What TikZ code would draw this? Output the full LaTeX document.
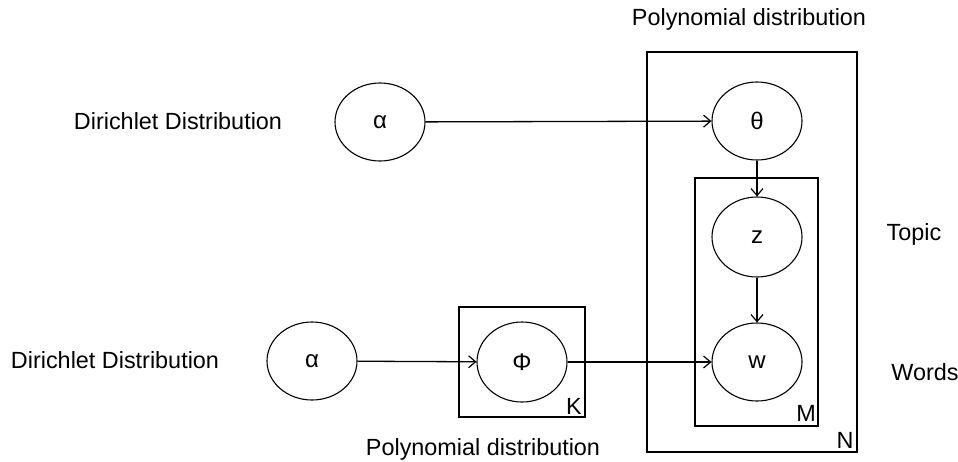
\documentclass[tikz,border=0pt]{standalone}
\usepackage{fontspec}
\setmainfont{Liberation Sans}
\usetikzlibrary{arrows.meta,shapes.geometric}
\begin{document}
\begin{tikzpicture}[x=1pt,y=-1pt,
  var/.style={draw, ellipse, line width=1.1pt, minimum width=90pt, minimum height=78pt, inner sep=0pt, font=\fontsize{24}{28}\selectfont},
  plate/.style={draw, line width=1.2pt},
  lbl/.style={font=\fontsize{23.4}{28}\selectfont, inner sep=0pt},
  arr/.style={line width=1.3pt, -{Straight Barb[length=7pt,width=12pt,line width=1.2pt]}}
]
\useasboundingbox (0,0) rectangle (958,461);
% plates
\draw[plate] (647,52) rectangle (857,452);
\draw[plate] (695,178) rectangle (818,426);
\draw[plate] (459,307) rectangle (585,417);
\node[lbl] (N) at (845,440) {N};
\node[lbl] (M) at (806,413) {M};
\node[lbl] (K) at (574,406) {K};
% variables
\node[var] (a1) at (380,122) {α};
\node[var] (th) at (757,121) {θ};
\node[var, minimum height=80pt] (z) at (757,237) {z};
\node[var] (w) at (757,362) {w};
\node[var] (a2) at (312,361) {α};
\node[var, minimum height=80pt] (ph) at (522,362) {Φ};
% labels
\node[lbl] (t1) at (749,19) {Polynomial distribution};
\node[lbl] (t2) at (483,449) {Polynomial distribution};
\node[lbl] (d1) at (178,121) {Dirichlet Distribution};
\node[lbl] (d2) at (115,360) {Dirichlet Distribution};
\node[lbl] (tp) at (914,234) {Topic};
\node[lbl] (wd) at (925,372) {Words};
% edges
\draw[arr] (a1) -- (th);
\draw[arr] (th) -- (z);
\draw[arr] (z) -- (w);
\draw[arr] (a2) -- (ph);
\draw[arr] (ph) -- (w);
\end{tikzpicture}
\end{document}
